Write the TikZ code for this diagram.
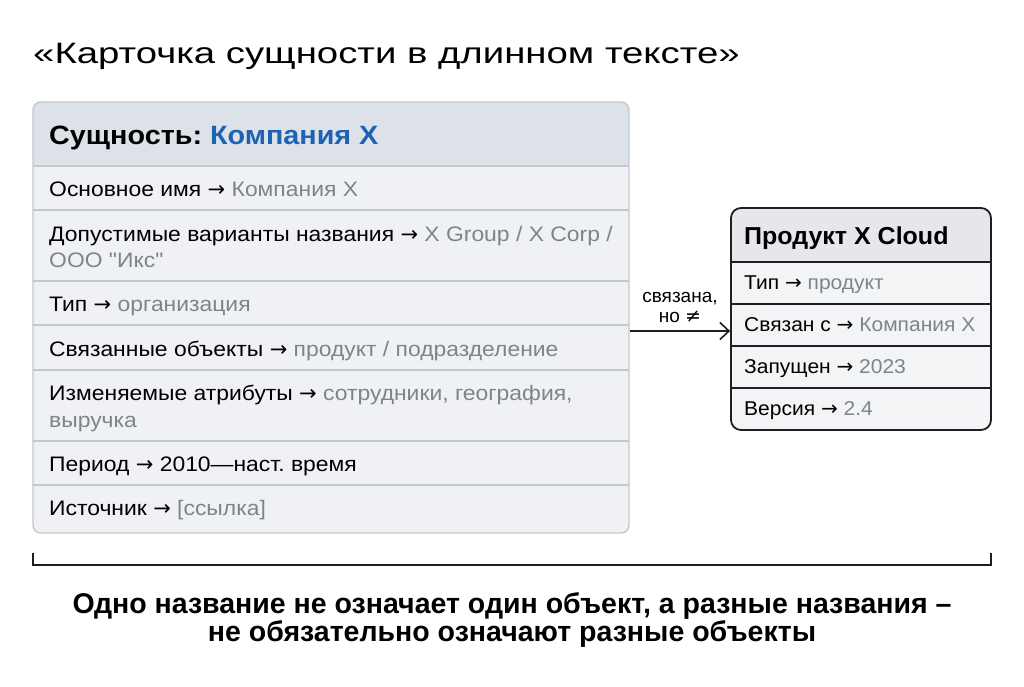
\documentclass[tikz,border=0pt]{standalone}
\usepackage{fontspec}
\setmainfont{Liberation Sans}
\newfontfamily\titlef[FakeStretch=1.30]{Liberation Sans}
\newfontfamily\rowf[FakeStretch=1.09]{Liberation Sans}
\newfontfamily\hdrf[FakeStretch=1.085]{Liberation Sans}
\newfontfamily\prodf[FakeStretch=1.02]{Liberation Sans}
\newfontfamily\prowf[FakeStretch=1.05]{Liberation Sans}
\newfontfamily\symf{DejaVu Sans}
\newcommand\arr{{\symf →}}
\usetikzlibrary{arrows.meta}
\definecolor{cardbg}{HTML}{EFF1F4}
\definecolor{cardhdr}{HTML}{DDE2E9}
\definecolor{cardline}{HTML}{C4C8CE}
\definecolor{valgray}{HTML}{7D848C}
\definecolor{entblue}{HTML}{1E62B6}
\definecolor{darkline}{HTML}{1E1F22}
\definecolor{pbg}{HTML}{F3F4F6}
\definecolor{phdr}{HTML}{E5E7EB}
\begin{document}
\frenchspacing
\begin{tikzpicture}[x=1pt,y=-1pt,
  txt/.style={anchor=base west, inner sep=0pt, text=black},
  rowtxt/.style={txt, font=\rowf\fontsize{21}{26}\selectfont},
  prowtxt/.style={txt, font=\prowf\fontsize{20}{24}\selectfont},
  val/.style={text=valgray},
  sepline/.style={draw=cardline, line width=1.2pt},
  psepline/.style={draw=darkline, line width=1.6pt}]
\useasboundingbox[fill=white] (0,0) rectangle (1024,687);

% title
\node[txt, font=\titlef\fontsize{29.5}{34}\selectfont] (title) at (33,64) {«Карточка сущности в длинном тексте»};

% left card
\begin{scope}
\clip[rounded corners=8pt] (33,102) rectangle (629,533);
\fill[cardbg] (33,102) rectangle (629,533);
\fill[cardhdr] (33,102) rectangle (629,166);
\foreach \yy in {166,210,281,325,370,441,485} \draw[sepline] (33,\yy) -- (629,\yy);
\end{scope}
\node[draw=cardline, line width=1.4pt, rounded corners=8pt, minimum width=596pt, minimum height=431pt, inner sep=0pt] (card) at (331,317.5) {};

\node[txt, font=\hdrf\bfseries\fontsize{26.5}{30}\selectfont] (hdr) at (49,145) {Сущность: \textcolor{entblue}{Компания X}};
\node[rowtxt] (r1) at (49,196.5) {Основное имя \arr{} \textcolor{valgray}{Компания X}};
\node[rowtxt] (r2) at (49,241) {Допустимые варианты названия \arr{} \textcolor{valgray}{X Group / X Corp /}};
\node[rowtxt, val] (r2b) at (49,267) {ООО \symbol{34}Икс\symbol{34}};
\node[rowtxt] (r3) at (49,311) {Тип \arr{} \textcolor{valgray}{организация}};
\node[rowtxt] (r4) at (49,356) {Связанные объекты \arr{} \textcolor{valgray}{продукт / подразделение}};
\node[rowtxt] (r5) at (49,400) {Изменяемые атрибуты \arr{} \textcolor{valgray}{сотрудники, география,}};
\node[rowtxt, val] (r5b) at (49,427) {выручка};
\node[rowtxt] (r6) at (49,471) {Период \arr{} 2010—наст. время};
\node[rowtxt] (r7) at (49,515) {Источник \arr{} \textcolor{valgray}{[ссылка]}};

% right card
\begin{scope}
\clip[rounded corners=10pt] (731,208) rectangle (991,430);
\fill[pbg] (731,208) rectangle (991,430);
\fill[phdr] (731,208) rectangle (991,262);
\foreach \yy in {262,304,346,388} \draw[psepline] (731,\yy) -- (991,\yy);
\end{scope}
\node[draw=darkline, line width=1.8pt, rounded corners=10pt, minimum width=260pt, minimum height=222pt, inner sep=0pt] (prod) at (861,319) {};

\node[txt, font=\prodf\bfseries\fontsize{24.5}{28}\selectfont] (phd) at (744,244) {Продукт X Cloud};
\node[prowtxt] (p1) at (744,289) {Тип \arr{} \textcolor{valgray}{продукт}};
\node[prowtxt] (p2) at (744,331) {Связан с \arr{} \textcolor{valgray}{Компания X}};
\node[prowtxt] (p3) at (744,373) {Запущен \arr{} \textcolor{valgray}{2023}};
\node[prowtxt] (p4) at (744,415) {Версия \arr{} \textcolor{valgray}{2.4}};

% arrow
\coordinate (ay) at (680,331);
\draw[darkline, line width=1.6pt, -{Straight Barb[length=9pt,width=17pt,line width=1.6pt]}] (card.east |- ay) -- (prod.west |- ay);
\node[anchor=base, inner sep=0pt, font=\fontsize{19}{20}\selectfont] (lab1) at (680,302) {связана,};
\node[anchor=base, inner sep=0pt, font=\fontsize{19}{20}\selectfont] (lab2) at (680,322) {но {\symf ≠}};

% bracket
\coordinate (bl) at (33,553);
\coordinate (br) at (991,553);
\draw[darkline, line width=1.8pt] (bl) -- (33,565) -- (991,565) -- (br);

% bottom text
\node[anchor=base, inner sep=0pt, font=\bfseries\fontsize{28.5}{30}\selectfont] (b1) at (512,613) {Одно название не означает один объект, а разные названия –};
\node[anchor=base, inner sep=0pt, font=\bfseries\fontsize{28.5}{30}\selectfont] (b2) at (512,641) {не обязательно означают разные объекты};
\end{tikzpicture}
\end{document}
